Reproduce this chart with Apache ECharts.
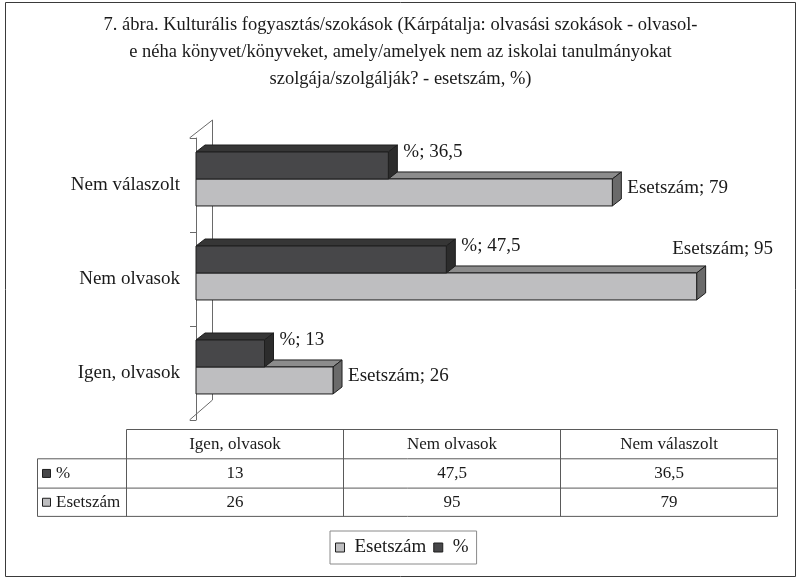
<!DOCTYPE html>
<html>
<head>
<meta charset="utf-8">
<script src="https://cdn.jsdelivr.net/npm/echarts@6/dist/echarts.min.js"></script>
<style>html,body{margin:0;padding:0;background:#fff;}#c{width:801px;height:582px;}</style>
</head>
<body>
<div id="c"></div>
<script>
// ---- data ----
var titleText = '7. ábra. Kulturális fogyasztás/szokások (Kárpátalja: olvasási szokások - olvasol-\ne néha könyvet/könyveket, amely/amelyek nem az iskolai tanulmányokat\nszolgája/szolgálják? - esetszám, %)';
var categories = ['Igen, olvasok', 'Nem olvasok', 'Nem válaszolt'];
var pctName = '%';
var countName = 'Esetszám';
var pctValues = [13, 47.5, 36.5];
var countValues = [26, 95, 79];

// ---- styling / layout ----
var FONT = "'Liberation Serif', 'DejaVu Serif', serif";
var GRID = {left: 196, top: 138, width: 527, height: 282};
var DX = 9, DY = 7;
var LFS = 19;
var colors = {
  pct: {front: '#474749', top: '#363636', side: '#2c2c2c'},
  count: {front: '#bebec0', top: '#8c8c8c', side: '#6a6a6a'}
};
var LABEL_LIMIT = 773;

function fmt(v) { return String(v).replace('.', ','); }

var measureCtx = document.createElement('canvas').getContext('2d');
function textWidth(t, size) {
  measureCtx.font = size + 'px ' + FONT;
  return measureCtx.measureText(t).width;
}

function makeRender(kind, name) {
  return function (params, api) {
    var cat = api.value(0), val = api.value(1);
    var p0 = api.coord([0, cat]);
    var p1 = api.coord([val, cat]);
    var band = api.size([0, 1])[1];
    var h = band * 0.287;
    var cy = p0[1] - band * 0.064;
    var yTop = kind === 'pct' ? cy - h : cy;
    var yBot = yTop + h;
    var x0 = p0[0], x1 = p1[0];
    var c = colors[kind];
    var stroke = '#1e1e1e';
    var children = [
      {type: 'polygon', shape: {points: [[x0, yTop], [x1, yTop], [x1 + DX, yTop - DY], [x0 + DX, yTop - DY]]},
       style: {fill: c.top, stroke: stroke, lineWidth: 1}},
      {type: 'polygon', shape: {points: [[x1, yTop], [x1 + DX, yTop - DY], [x1 + DX, yBot - DY], [x1, yBot]]},
       style: {fill: c.side, stroke: stroke, lineWidth: 1}},
      {type: 'rect', shape: {x: x0, y: yTop, width: x1 - x0, height: h},
       style: {fill: c.front, stroke: stroke, lineWidth: 1}}
    ];
    var label = name + '; ' + fmt(val);
    var lx = x1 + DX + 6;
    var ly = kind === 'pct' ? (yTop + yBot) / 2 - 13 : (yTop + yBot) / 2 - 4.5;
    var align = 'left';
    if (lx + textWidth(label, LFS) > LABEL_LIMIT) {
      lx = LABEL_LIMIT;
      align = 'right';
      ly = yTop - DY - 17;
    }
    children.push({type: 'text', style: {text: label, x: lx, y: ly, fill: '#1a1a1a',
      fontSize: LFS, fontFamily: FONT, align: align, verticalAlign: 'middle'}});
    return {type: 'group', children: children};
  };
}

// ---- table + decorations via graphic ----
var g = [];
g.push({type: 'rect', shape: {x: 5.5, y: 2.5, width: 790, height: 574}, style: {fill: 'none', stroke: '#3a3a3a', lineWidth: 1}, z: 0});
// back wall of 3D chart
var fx = 189.5, bx = 212.5;
g.push({type: 'polyline', shape: {points: [[fx, GRID.top], [bx, GRID.top - 18], [bx, GRID.top + GRID.height - 20], [fx, GRID.top + GRID.height]]},
  style: {fill: 'none', stroke: '#6a6a6a', lineWidth: 1}, z: 0});

var tbl = {x0: 37.5, x1: 126.5, colW: 217, top: 429.5, rowH: 29.3};
var tRight = tbl.x1 + tbl.colW * categories.length;
var lineStyle = {stroke: '#5a5a5a', lineWidth: 1};
var rows = [tbl.top, tbl.top + tbl.rowH, tbl.top + 2 * tbl.rowH, tbl.top + 3 * tbl.rowH - 1];
g.push({type: 'line', shape: {x1: tbl.x1, y1: rows[0], x2: tRight, y2: rows[0]}, style: lineStyle});
for (var r = 1; r < 4; r++) g.push({type: 'line', shape: {x1: tbl.x0, y1: rows[r], x2: tRight, y2: rows[r]}, style: lineStyle});
g.push({type: 'line', shape: {x1: tbl.x0, y1: rows[1], x2: tbl.x0, y2: rows[3]}, style: lineStyle});
for (var k = 0; k <= categories.length; k++) {
  var xx = tbl.x1 + tbl.colW * k;
  g.push({type: 'line', shape: {x1: xx, y1: rows[0], x2: xx, y2: rows[3]}, style: lineStyle});
}
var tFont = 17;
var tableRows = [{name: pctName, vals: pctValues, color: colors.pct.front}, {name: countName, vals: countValues, color: colors.count.front}];
categories.forEach(function (cName, i) {
  var cx = tbl.x1 + tbl.colW * (i + 0.5);
  g.push({type: 'text', style: {text: cName, x: cx, y: (rows[0] + rows[1]) / 2, align: 'center', verticalAlign: 'middle', fontSize: tFont, fontFamily: FONT, fill: '#1a1a1a'}});
  tableRows.forEach(function (row, j) {
    g.push({type: 'text', style: {text: fmt(row.vals[i]), x: cx, y: (rows[j + 1] + rows[j + 2]) / 2, align: 'center', verticalAlign: 'middle', fontSize: tFont, fontFamily: FONT, fill: '#1a1a1a'}});
  });
});
tableRows.forEach(function (row, j) {
  var cyy = (rows[j + 1] + rows[j + 2]) / 2;
  g.push({type: 'rect', shape: {x: 42.5, y: cyy - 4, width: 8, height: 8}, style: {fill: row.color, stroke: '#1e1e1e', lineWidth: 1}});
  g.push({type: 'text', style: {text: row.name, x: 56, y: cyy, align: 'left', verticalAlign: 'middle', fontSize: tFont, fontFamily: FONT, fill: '#1a1a1a'}});
});

var chart = echarts.init(document.getElementById('c'), null, {renderer: 'canvas'});
chart.setOption({
  backgroundColor: '#fff',
  animation: false,
  title: {
    text: titleText, left: 'center', top: 7,
    textStyle: {fontFamily: FONT, fontSize: 18.5, fontWeight: 'normal', color: '#1a1a1a', lineHeight: 27}
  },
  grid: GRID,
  xAxis: {type: 'value', min: 0, max: 100, show: false},
  yAxis: {
    type: 'category', data: categories, offset: 7,
    axisLine: {show: true, lineStyle: {color: '#6a6a6a', width: 1}},
    axisTick: {show: true, length: 6, lineStyle: {color: '#6a6a6a'}},
    axisLabel: {fontFamily: FONT, fontSize: LFS, color: '#1a1a1a', margin: 9},
    splitLine: {show: false}
  },
  legend: {
    left: 330, top: 531,
    data: [countName, pctName],
    icon: 'rect', itemWidth: 9, itemHeight: 9, itemGap: 7,
    padding: [7, 8, 7, 5], borderColor: '#8a8a8a', borderWidth: 1,
    itemStyle: {borderColor: '#1e1e1e', borderWidth: 1},
    textStyle: {fontFamily: FONT, fontSize: LFS, color: '#1a1a1a', padding: [0, 0, 0, 5]}
  },
  graphic: {elements: g},
  series: [
    {type: 'custom', name: countName, renderItem: makeRender('count', countName), itemStyle: {color: colors.count.front},
     encode: {x: 1, y: 0}, data: countValues.map(function (v, i) { return [i, v]; }), z: 2},
    {type: 'custom', name: pctName, renderItem: makeRender('pct', pctName), itemStyle: {color: colors.pct.front},
     encode: {x: 1, y: 0}, data: pctValues.map(function (v, i) { return [i, v]; }), z: 3}
  ]
});
</script>
</body>
</html>
